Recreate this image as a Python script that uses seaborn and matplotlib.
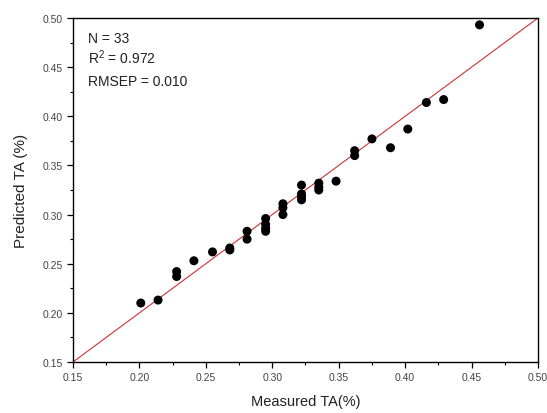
import matplotlib
matplotlib.use("Agg")
import matplotlib.pyplot as plt
import seaborn as sns
import pandas as pd
from matplotlib.ticker import MultipleLocator

# measured vs predicted titratable acidity
measured = [0.201, 0.214, 0.228, 0.228, 0.241, 0.255, 0.268, 0.268,
            0.281, 0.281, 0.295, 0.295, 0.295, 0.295, 0.308, 0.308,
            0.308, 0.322, 0.322, 0.322, 0.322, 0.335, 0.335, 0.335,
            0.348, 0.362, 0.362, 0.375, 0.389, 0.402, 0.416, 0.429, 0.456]
predicted = [0.210, 0.213, 0.242, 0.237, 0.253, 0.262, 0.264, 0.266,
             0.283, 0.275, 0.296, 0.286, 0.283, 0.290, 0.311, 0.307,
             0.300, 0.330, 0.321, 0.318, 0.315, 0.332, 0.325, 0.328,
             0.334, 0.365, 0.360, 0.377, 0.368, 0.387, 0.414, 0.417, 0.493]
stats_lines = ["N = 33", "R$^{2}$ = 0.972", "RMSEP = 0.010"]
ticks = [0.15, 0.20, 0.25, 0.30, 0.35, 0.40, 0.45, 0.50]

df = pd.DataFrame({"measured": measured, "predicted": predicted})

sns.set_theme(style="ticks")
plt.rcParams['font.family'] = ['Liberation Sans', 'DejaVu Sans']
plt.rcParams['mathtext.fontset'] = 'custom'
plt.rcParams['mathtext.rm'] = 'Liberation Sans'
plt.rcParams['mathtext.default'] = 'regular'

fig = plt.figure(figsize=(5.47, 4.14), dpi=100)
ax = fig.add_axes([0.1335, 0.1232, 0.85, 0.8309])

# 1:1 line
ax.plot([0.15, 0.50], [0.15, 0.50], color="#cc3333", lw=0.8, zorder=1)
sns.scatterplot(data=df, x="measured", y="predicted", ax=ax, color="black",
                s=42, edgecolor="none", zorder=2)

ax.set_xlim(0.15, 0.50)
ax.set_ylim(0.15, 0.50)
ax.set_xticks(ticks)
ax.set_yticks(ticks)
ax.set_xticklabels([f"{t:.2f}" for t in ticks])
ax.set_yticklabels([f"{t:.2f}" for t in ticks])
ax.xaxis.set_minor_locator(MultipleLocator(0.025))
ax.yaxis.set_minor_locator(MultipleLocator(0.025))
ax.tick_params(which="major", direction="out", length=4, width=0.9,
               labelsize=7.5, labelcolor="#444444", color="black")
ax.tick_params(which="minor", direction="out", length=2.5, width=0.8, color="black")
for sp in ax.spines.values():
    sp.set_visible(True)
    sp.set_linewidth(1.0)
    sp.set_color("black")

ax.set_xlabel("Measured TA(%)", fontsize=10.5, color="#222222", labelpad=8)
ax.set_ylabel("Predicted TA (%)", fontsize=11, color="#222222", labelpad=10)

for i, line in enumerate(stats_lines):
    ax.text(0.033, 0.93 - i * 0.062, line, transform=ax.transAxes,
            fontsize=10, color="#222222", va="baseline")

fig.savefig("out.png", dpi=100)
